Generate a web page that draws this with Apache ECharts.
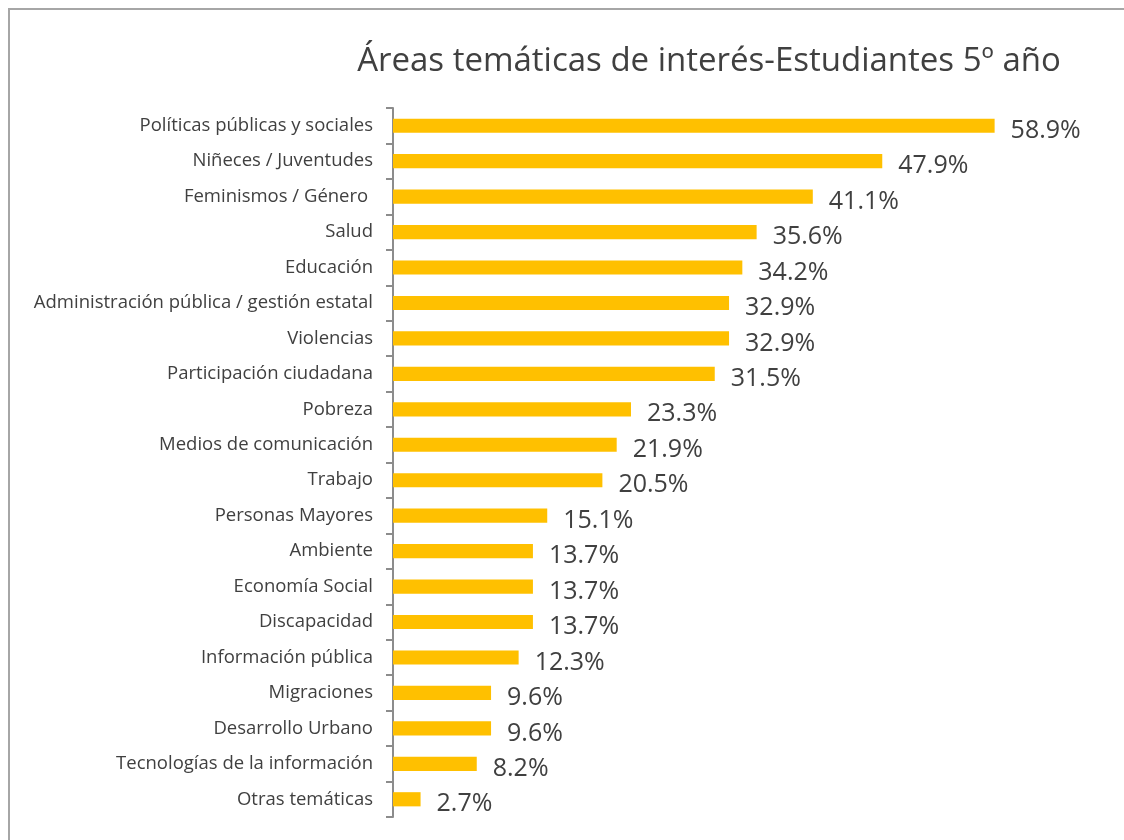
<!DOCTYPE html>
<html>
<head>
<meta charset="utf-8">
<script src="https://cdn.jsdelivr.net/npm/echarts@6/dist/echarts.min.js"></script>
<style>
  html, body { margin: 0; padding: 0; background: #fff; }
  #chart { width: 1124px; height: 840px; }
</style>
</head>
<body>
<div id="chart"></div>
<script>
const categories = [
  "Políticas públicas y sociales",
  "Niñeces / Juventudes",
  "Feminismos / Género ",
  "Salud",
  "Educación",
  "Administración pública / gestión estatal",
  "Violencias",
  "Participación ciudadana",
  "Pobreza",
  "Medios de comunicación",
  "Trabajo",
  "Personas Mayores",
  "Ambiente",
  "Economía Social",
  "Discapacidad",
  "Información pública",
  "Migraciones",
  "Desarrollo Urbano",
  "Tecnologías de la información",
  "Otras temáticas"
];
const values = [58.9, 47.9, 41.1, 35.6, 34.2, 32.9, 32.9, 31.5, 23.3, 21.9, 20.5, 15.1, 13.7, 13.7, 13.7, 12.3, 9.6, 9.6, 8.2, 2.7];

const TEXT = "#404040";
const BAR = "#FFC000";
const FONT = "'Open Sans', 'Noto Sans', sans-serif";

const chart = echarts.init(document.getElementById("chart"));

chart.setOption({
  animation: false,
  textStyle: { fontFamily: FONT },
  title: {
    text: "Áreas temáticas de interés-Estudiantes 5º año",
    left: 704,
    top: 40,
    textAlign: "center",
    textStyle: { fontSize: 33, fontWeight: "normal", color: TEXT, fontFamily: FONT }
  },
  graphic: [{
    type: "rect",
    shape: { x: 9, y: 9, width: 1200, height: 900 },
    style: { fill: "none", stroke: "#a6a6a6", lineWidth: 2 },
    silent: true
  }],
  grid: { left: 393, top: 108, width: 715, height: 709, containLabel: false },
  xAxis: {
    type: "value",
    min: 0,
    max: 70,
    show: false
  },
  yAxis: {
    type: "category",
    data: categories,
    inverse: true,
    axisLine: { show: true, lineStyle: { color: "#8c8c8c", width: 2 } },
    axisTick: { show: true, length: 7, lineStyle: { color: "#8c8c8c", width: 2 } },
    axisLabel: { color: TEXT, fontSize: 18.5, margin: 20, fontFamily: FONT }
  },
  series: [{
    type: "bar",
    data: values,
    barCategoryGap: "60%",
    itemStyle: { color: BAR },
    label: {
      show: true,
      position: "right",
      distance: 16,
      offset: [0, 5],
      color: TEXT,
      fontSize: 25,
      fontFamily: FONT,
      formatter: (p) => p.value.toFixed(1) + "%"
    }
  }]
});
</script>
</body>
</html>
